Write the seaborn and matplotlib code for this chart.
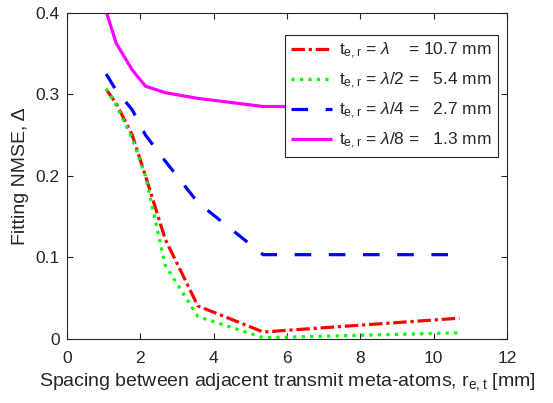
import matplotlib
matplotlib.use("Agg")
import matplotlib.pyplot as plt
import seaborn as sns
import pandas as pd

# Element spacing r_e,t (mm): lambda/10 ... lambda with lambda = 10.7 mm
spacing = [1.07, 1.34, 1.78, 2.14, 2.68, 3.57, 5.35, 10.7]

nmse_lambda = [0.306, 0.289, 0.250, 0.200, 0.122, 0.040, 0.008, 0.025]
nmse_lambda2 = [0.307, 0.287, 0.246, 0.200, 0.090, 0.027, 0.001, 0.007]
nmse_lambda4 = [0.325, 0.305, 0.281, 0.250, 0.218, 0.167, 0.103, 0.103]
nmse_lambda8 = [0.402, 0.363, 0.330, 0.310, 0.302, 0.295, 0.285, 0.285]

series_labels = [
    r"$\mathrm{t_{e,r}}$ = $\lambda$    = 10.7 mm",
    r"$\mathrm{t_{e,r}}$ = $\lambda$/2 =   5.4 mm",
    r"$\mathrm{t_{e,r}}$ = $\lambda$/4 =   2.7 mm",
    r"$\mathrm{t_{e,r}}$ = $\lambda$/8 =   1.3 mm",
]

x_ticks = [0, 2, 4, 6, 8, 10, 12]
y_ticks = [0, 0.1, 0.2, 0.3, 0.4]

sns.set_style("white")
plt.rcParams["font.family"] = ["Liberation Sans", "DejaVu Sans"]
plt.rcParams["mathtext.fontset"] = "custom"
plt.rcParams["mathtext.rm"] = "Liberation Sans"
plt.rcParams["mathtext.it"] = "Liberation Sans:italic"

ink = "#262626"

fig = plt.figure(figsize=(5.53, 4.03), dpi=100)
ax = fig.add_axes([0.121, 0.160, 0.796, 0.808])

styles = [
    dict(color="#ff0000", dashes=(4.2, 1.2, 1.0, 1.2)),
    dict(color="#00ff00", dashes=(1.0, 1.65)),
    dict(color="#0000ff", dashes=(5.2, 5.5)),
    dict(color="#ff00ff", dashes=()),
]
values = [nmse_lambda, nmse_lambda2, nmse_lambda4, nmse_lambda8]

for vals, lab, st in zip(values, series_labels, styles):
    df = pd.DataFrame({"spacing": spacing, "nmse": vals})
    sns.lineplot(data=df, x="spacing", y="nmse", ax=ax, color=st["color"],
                 linewidth=2.3, label=lab, sort=False)
    l = ax.get_lines()[-1]
    if st["dashes"]:
        l.set_dashes(st["dashes"])
    l.set_solid_capstyle("butt")
    l.set_dash_capstyle("butt")

ax.set_xlim(0, 12)
ax.set_ylim(0, 0.4)
ax.set_xticks(x_ticks)
ax.set_yticks(y_ticks)
ax.set_xticklabels([str(t) for t in x_ticks])
ax.set_yticklabels(["0", "0.1", "0.2", "0.3", "0.4"])

for sp in ax.spines.values():
    sp.set_visible(True)
    sp.set_color(ink)
    sp.set_linewidth(0.8)
ax.tick_params(direction="in", length=4, width=0.8, colors=ink, labelsize=12.5,
               top=True, right=True, bottom=True, left=True)
ax.tick_params(axis="x", pad=9)
ax.tick_params(axis="y", pad=5)
ax.tick_params(labelcolor=ink)

ax.set_xlabel(r"Spacing between adjacent transmit meta-atoms, $\mathrm{r_{e,t}}$ [mm]",
              fontsize=14, color=ink, labelpad=4)
ax.set_ylabel("Fitting NMSE, Δ", fontsize=14, color=ink, labelpad=5)

leg = ax.legend(loc="upper right", bbox_to_anchor=(0.9795, 0.932), fontsize=12.5,
                frameon=True, fancybox=False, handlelength=2.35, handletextpad=0.4,
                borderpad=0.35, labelspacing=0.55, borderaxespad=0.0)
leg.get_frame().set_edgecolor(ink)
leg.get_frame().set_linewidth(0.8)
leg.get_frame().set_alpha(1)
for t in leg.get_texts():
    t.set_color(ink)

fig.savefig("out.png", dpi=100, facecolor="white")
